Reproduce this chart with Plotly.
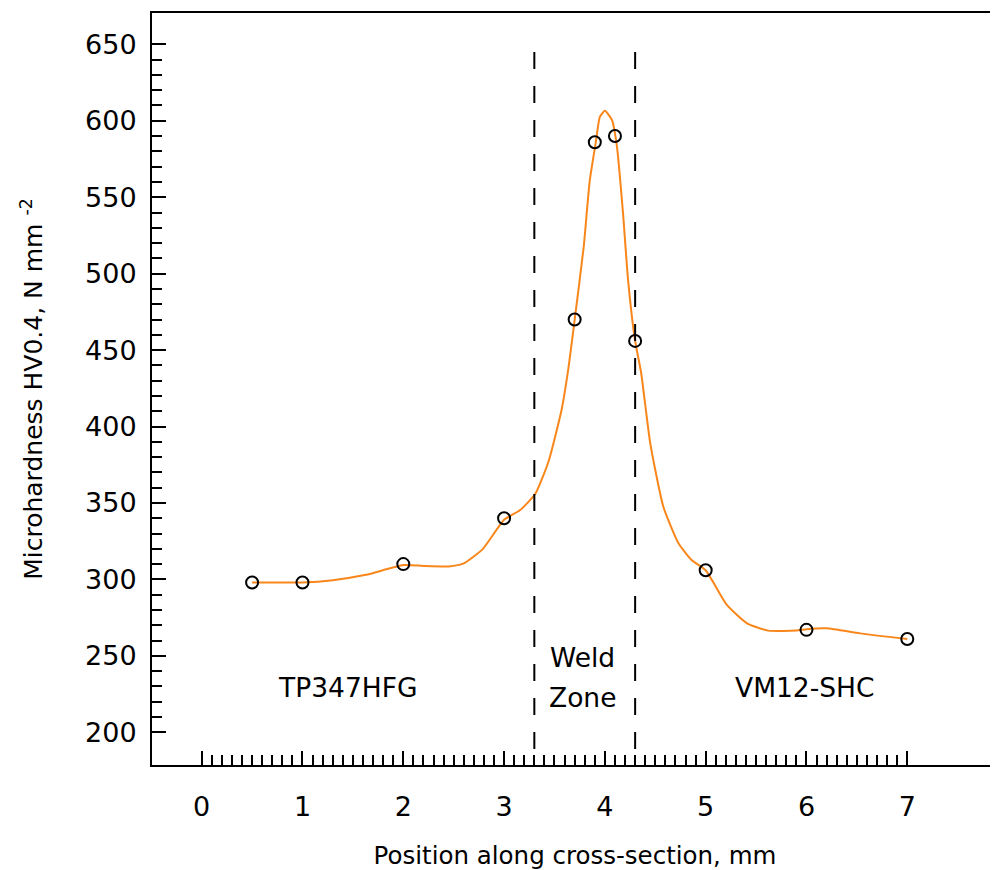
import plotly.graph_objects as go

# Measured hardness points
pos_mm = [0.5, 1.0, 2.0, 3.0, 3.7, 3.9, 4.1, 4.3, 5.0, 6.0, 7.0]
hardness = [298, 298, 310, 340, 470, 586, 590, 456, 306, 267, 261]

# Fitted trend curve
curve_x = [0.5, 1.0, 1.3, 1.63, 2.0, 2.2, 2.45, 2.6, 2.79, 3.0, 3.16, 3.31, 3.44,
           3.57, 3.64, 3.70, 3.79, 3.85, 3.91, 3.95, 4.0, 4.07, 4.12, 4.18, 4.23,
           4.30, 4.36, 4.45, 4.58, 4.73, 4.86, 5.0, 5.21, 5.41, 5.62, 5.9, 6.0,
           6.2, 6.53, 7.0]
curve_y = [298, 298, 299.5, 303, 309.4, 308.8, 308.5, 310.5, 320, 339, 345.4, 356, 377,
           410.8, 439, 469.7, 517.6, 561, 586, 602.6, 606.5, 600.5, 583, 539.4, 495.8,
           456, 435, 389, 347.5, 323.6, 312.7, 306, 283.3, 271.3, 266.5, 266.5, 267.4,
           268, 264.7, 261]

# Weld zone boundaries and labels
zone_bounds = [3.3, 4.3]
zone_line_span = [645, 184]
region_labels = ["TP347HFG", "Weld", "Zone", "VM12-SHC"]
label_x = [1.45, 3.78, 3.78, 5.99]
label_y = [229.6, 249, 223, 229.6]

x_major = [0, 1, 2, 3, 4, 5, 6, 7]
x_minor = [round(i * 0.1, 1) for i in range(0, 71) if i % 10 != 0]
y_major = [200, 250, 300, 350, 400, 450, 500, 550, 600, 650]
y_minor = [v for v in range(200, 651, 10) if v % 50 != 0]

FONT = "DejaVu Sans"

fig = go.Figure()
fig.add_trace(go.Scatter(
    x=curve_x, y=curve_y, mode="lines",
    line=dict(color="#F8861A", width=2, shape="spline", smoothing=0.5),
    hoverinfo="skip", showlegend=False))
fig.add_trace(go.Scatter(
    x=pos_mm, y=hardness, mode="markers",
    marker=dict(symbol="circle-open", size=12, color="black", line=dict(width=2, color="black")),
    showlegend=False))

for xb in zone_bounds:
    fig.add_shape(type="line", xref="x", yref="y", x0=xb, x1=xb,
                  y0=zone_line_span[0], y1=zone_line_span[1],
                  line=dict(color="black", width=2, dash="17px,17px"))

for t, lx, ly in zip(region_labels, label_x, label_y):
    fig.add_annotation(x=lx, y=ly, xref="x", yref="y", text=t, showarrow=False,
                       font=dict(family=FONT, size=26.5, color="black"))

# The page body has an 8px default margin, so the figure is sized/offset to compensate
fig.update_layout(
    width=990, height=862,
    margin=dict(l=144, r=0, t=5, b=105),
    paper_bgcolor="white", plot_bgcolor="white",
    font=dict(family=FONT, color="black"),
    showlegend=False,
    xaxis=dict(
        range=[-0.493, 7.9], showgrid=False, zeroline=False, automargin=False,
        showline=True, linecolor="black", linewidth=2, mirror=True,
        tickmode="array", tickvals=x_major, ticktext=[str(v) for v in x_major],
        ticks="inside", ticklen=14, tickwidth=1.5, tickcolor="black",
        ticklabelstandoff=17,
        tickfont=dict(family=FONT, size=27, color="black"),
        minor=dict(tickmode="array", tickvals=x_minor, ticks="inside",
                   ticklen=10, tickwidth=1.5, tickcolor="black", showgrid=False),
        title=dict(text="Position along cross-section, mm",
                   font=dict(family=FONT, size=24.5, color="black"), standoff=31),
    ),
    yaxis=dict(
        range=[178.6, 670.5], showgrid=False, zeroline=False, automargin=False,
        showline=True, linecolor="black", linewidth=2, mirror=False,
        tickmode="array", tickvals=y_major, ticktext=[str(v) for v in y_major],
        ticks="inside", ticklen=14, tickwidth=2, tickcolor="black",
        ticklabelstandoff=8,
        tickfont=dict(family=FONT, size=27, color="black"),
        minor=dict(tickmode="array", tickvals=y_minor, ticks="inside",
                   ticklen=10, tickwidth=2, tickcolor="black", showgrid=False),
        title=dict(text="Microhardness HV0.4, N mm <sup>-2</sup>",
                   font=dict(family=FONT, size=25, color="black"), standoff=35),
    ),
)

fig.write_html("out.html")
